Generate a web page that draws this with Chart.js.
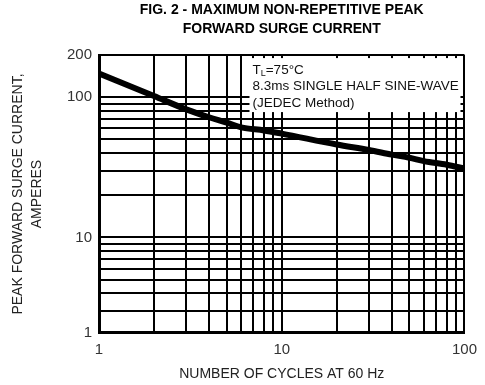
<!DOCTYPE html>
<html>
<head>
<meta charset="utf-8">
<script src="https://cdn.jsdelivr.net/npm/chart.js@4/dist/chart.umd.min.js"></script>
<style>
  body { margin: 0; background: #fff; }
  canvas { display: block; }
</style>
</head>
<body>
<canvas id="myChart" width="485" height="385"></canvas>
<script>
// number of cycles at 60 Hz
const cycles = [1, 2, 3, 4, 5, 6, 8, 10, 20, 30, 40, 50, 60, 80, 100];
// peak forward surge current, amperes
const current = [148, 102, 82, 72, 66, 61, 58, 55, 46, 42, 39, 37, 35, 33, 31];

// grid lines / tick labels
const xGrid = [1, 2, 3, 4, 5, 6, 7, 8, 9, 10, 20, 30, 40, 50, 60, 70, 80, 90, 100];
const xTickLabels = ["1", "10", "100"];
// the printed axis starts around 2 but its bottom line is labelled "1"
const yBottom = 2.08;
const yGrid = [yBottom, 3, 4, 5, 6, 7, 8, 9, 10, 20, 30, 40, 50, 60, 70, 80, 90, 100, 200];
const yTickLabels = ["1", "10", "100", "200"];

const titleLines = ["FIG. 2 - MAXIMUM NON-REPETITIVE PEAK", "FORWARD SURGE CURRENT"];
const yTitle = ["PEAK FORWARD SURGE CURRENT,", "AMPERES"];
const xTitle = "NUMBER OF CYCLES AT 60 Hz";
const noteLines = ["=75°C", "8.3ms SINGLE HALF SINE-WAVE", "(JEDEC Method)"];

const whiteBg = {
  id: "whiteBg",
  beforeDraw(chart) {
    const ctx = chart.ctx;
    ctx.save();
    ctx.fillStyle = "#fff";
    ctx.fillRect(0, 0, chart.width, chart.height);
    ctx.restore();
  },
};

const noteBox = {
  id: "noteBox",
  beforeDatasetsDraw(chart) {
    const { ctx, chartArea } = chart;
    const left = chartArea.right - 215;
    const top = chartArea.top + 3;
    const big = "13.5px 'Liberation Sans', Arial, sans-serif";
    ctx.save();
    ctx.fillStyle = "#fff";
    ctx.fillRect(left, top, 211, 54);
    ctx.fillStyle = "#111";
    ctx.textBaseline = "middle";
    ctx.font = big;
    ctx.fillText("T", left + 3, top + 12);
    const tw = ctx.measureText("T").width;
    ctx.font = "9px 'Liberation Sans', Arial, sans-serif";
    ctx.fillText("L", left + 3 + tw, top + 15);
    const lw = ctx.measureText("L").width;
    ctx.font = big;
    ctx.fillText(noteLines[0], left + 3 + tw + lw, top + 12);
    ctx.fillText(noteLines[1], left + 3, top + 28);
    ctx.fillText(noteLines[2], left + 3, top + 45);
    ctx.restore();
  },
};

const fontFamily = "'Liberation Sans', Arial, sans-serif";

new Chart(document.getElementById("myChart"), {
  type: "line",
  data: {
    datasets: [
      {
        data: cycles.map((c, i) => ({ x: c, y: current[i] })),
        borderColor: "#000",
        borderWidth: 6,
        pointRadius: 0,
        cubicInterpolationMode: "monotone",
        fill: false,
      },
    ],
  },
  options: {
    responsive: false,
    animation: false,
    layout: { padding: 0 },
    plugins: {
      legend: { display: false },
      tooltip: { enabled: false },
      title: {
        display: true,
        fullSize: false,
        text: titleLines,
        color: "#000",
        font: { family: fontFamily, size: 14, weight: "bold", lineHeight: 1.36 },
        padding: { top: 0.5, bottom: 16.5 },
      },
    },
    scales: {
      x: {
        type: "logarithmic",
        min: 1,
        max: 100,
        afterBuildTicks: (scale) => {
          scale.ticks = xGrid.map((v) => ({ value: v }));
        },
        afterFit: (scale) => {
          scale.height = 52;
        },
        ticks: {
          autoSkip: false,
          maxRotation: 0,
          padding: 8,
          color: "#333",
          font: { family: fontFamily, size: 15 },
          callback: (v) => (xTickLabels.includes(String(v)) ? String(v) : ""),
        },
        grid: { color: "#000", lineWidth: 2, drawTicks: false },
        border: { color: "#000", width: 3 },
        title: {
          display: true,
          text: xTitle,
          color: "#222",
          font: { family: fontFamily, size: 14, lineHeight: 1.2 },
          padding: { top: 0, bottom: 2 },
        },
      },
      y: {
        type: "logarithmic",
        min: yBottom,
        max: 200,
        afterBuildTicks: (scale) => {
          scale.ticks = yGrid.map((v) => ({ value: v }));
        },
        afterFit: (scale) => {
          scale.width = 99;
        },
        ticks: {
          autoSkip: false,
          padding: 7,
          color: "#333",
          font: { family: fontFamily, size: 15 },
          callback: (v) => {
            if (v === yBottom) return yTickLabels[0];
            return yTickLabels.includes(String(v)) ? String(v) : "";
          },
        },
        grid: { color: "#000", lineWidth: 2, drawTicks: false },
        border: { color: "#000", width: 3 },
        title: {
          display: true,
          text: yTitle,
          color: "#222",
          font: { family: fontFamily, size: 14, lineHeight: 1.36 },
          padding: { top: 8.5, bottom: 0 },
        },
      },
    },
  },
  plugins: [whiteBg, noteBox],
});
</script>
</body>
</html>
